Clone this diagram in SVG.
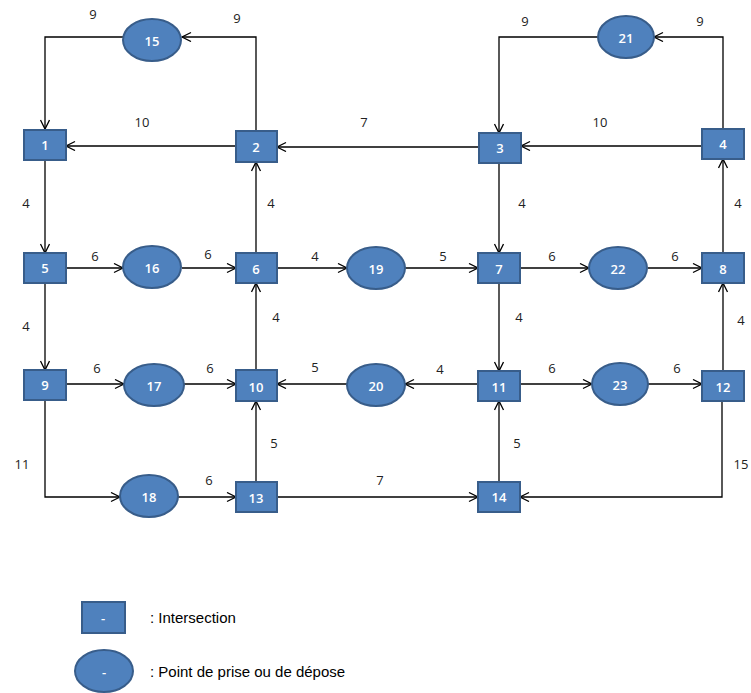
<svg xmlns="http://www.w3.org/2000/svg" width="751" height="693" viewBox="0 0 751 693">
<style>
.n{fill:#4F81BD;stroke:#385D8A;stroke-width:2}
.t{fill:#fff;font-family:"Open Sans","Liberation Sans",sans-serif;font-size:13px;font-weight:600;text-anchor:middle;dominant-baseline:central}
.c path{fill:none;stroke:#000;stroke-width:1.3;marker-end:url(#a)}
.l{fill:#222;font-family:"Open Sans","Liberation Sans",sans-serif;font-size:13px;text-anchor:middle;dominant-baseline:central}
.g{fill:#000;font-family:"Liberation Sans",Arial,sans-serif;font-size:15px;dominant-baseline:central}
</style>
<defs>
<marker id="a" markerWidth="12" markerHeight="12" refX="10" refY="5" orient="auto" markerUnits="userSpaceOnUse">
<path d="M1,0.5 L10,5 L1,9.5" fill="none" stroke="#000" stroke-width="1.3"/>
</marker>
</defs>
<rect width="751" height="693" fill="#fff"/>
<g class="c">
<path d="M123,37 H45 V129"/>
<path d="M256,131 V37 H182"/>
<path d="M236,146 H66"/>
<path d="M479,147 H277"/>
<path d="M598,37 H499 V133"/>
<path d="M723,129 V37 H654"/>
<path d="M702,146 H521"/>
<path d="M45,160 V253"/>
<path d="M256,253 V162"/>
<path d="M499,163 V253"/>
<path d="M723,253 V159"/>
<path d="M66,268 H123"/>
<path d="M182,268 H236"/>
<path d="M277,268 H347"/>
<path d="M405,268 H478"/>
<path d="M520,268 H589"/>
<path d="M648,268 H702"/>
<path d="M45,283 V370"/>
<path d="M256,370 V283"/>
<path d="M499,283 V371"/>
<path d="M723,371 V283"/>
<path d="M66,384 H124"/>
<path d="M184,384 H236"/>
<path d="M347,384 H277"/>
<path d="M478,384 H405"/>
<path d="M520,384 H592"/>
<path d="M648,384 H702"/>
<path d="M45,400 V497 H120"/>
<path d="M178,497 H236"/>
<path d="M256,482 V401"/>
<path d="M277,497 H478"/>
<path d="M499,482 V401"/>
<path d="M722,401 V497 H520"/>
</g>
<g id="n1"><rect class="n" x="24" y="130" width="42" height="30"/><text class="t" x="45" y="145">1</text></g>
<g id="n2"><rect class="n" x="236" y="131" width="41" height="31"/><text class="t" x="256" y="147">2</text></g>
<g id="n3"><rect class="n" x="479" y="133" width="42" height="30"/><text class="t" x="500" y="148">3</text></g>
<g id="n4"><rect class="n" x="702" y="129" width="42" height="30"/><text class="t" x="723" y="144">4</text></g>
<g id="n5"><rect class="n" x="24" y="253" width="42" height="30"/><text class="t" x="45" y="268">5</text></g>
<g id="n6"><rect class="n" x="236" y="253" width="41" height="30"/><text class="t" x="256" y="269">6</text></g>
<g id="n7"><rect class="n" x="478" y="253" width="42" height="30"/><text class="t" x="499" y="269">7</text></g>
<g id="n8"><rect class="n" x="702" y="253" width="42" height="30"/><text class="t" x="723" y="269">8</text></g>
<g id="n9"><rect class="n" x="24" y="370" width="42" height="30"/><text class="t" x="45" y="385">9</text></g>
<g id="n10"><rect class="n" x="236" y="370" width="41" height="31"/><text class="t" x="256" y="387">10</text></g>
<g id="n11"><rect class="n" x="478" y="371" width="42" height="30"/><text class="t" x="499" y="387">11</text></g>
<g id="n12"><rect class="n" x="702" y="371" width="42" height="30"/><text class="t" x="723" y="387">12</text></g>
<g id="n13"><rect class="n" x="236" y="482" width="41" height="30"/><text class="t" x="256" y="498">13</text></g>
<g id="n14"><rect class="n" x="478" y="482" width="42" height="30"/><text class="t" x="499" y="497">14</text></g>
<g id="n15"><ellipse class="n" cx="152" cy="40" rx="29" ry="21"/><text class="t" x="152" y="41">15</text></g>
<g id="n16"><ellipse class="n" cx="152" cy="267" rx="29" ry="21"/><text class="t" x="152" y="268">16</text></g>
<g id="n17"><ellipse class="n" cx="154" cy="385" rx="30" ry="21"/><text class="t" x="154" y="386">17</text></g>
<g id="n18"><ellipse class="n" cx="149" cy="496" rx="29" ry="21"/><text class="t" x="149" y="497">18</text></g>
<g id="n19"><ellipse class="n" cx="376" cy="268" rx="29" ry="21"/><text class="t" x="376" y="269">19</text></g>
<g id="n20"><ellipse class="n" cx="376" cy="385" rx="29" ry="21"/><text class="t" x="376" y="386">20</text></g>
<g id="n21"><ellipse class="n" cx="626" cy="37" rx="28" ry="21"/><text class="t" x="626" y="38">21</text></g>
<g id="n22"><ellipse class="n" cx="618" cy="268" rx="29" ry="21"/><text class="t" x="618" y="269">22</text></g>
<g id="n23"><ellipse class="n" cx="620" cy="384" rx="28" ry="21"/><text class="t" x="620" y="385">23</text></g>
<g id="labels">
<text class="l" x="93" y="14">9</text>
<text class="l" x="237" y="18">9</text>
<text class="l" x="142" y="122">10</text>
<text class="l" x="364" y="122">7</text>
<text class="l" x="525" y="21">9</text>
<text class="l" x="700" y="21">9</text>
<text class="l" x="600" y="122">10</text>
<text class="l" x="26" y="203">4</text>
<text class="l" x="271" y="203">4</text>
<text class="l" x="522" y="203">4</text>
<text class="l" x="738" y="203">4</text>
<text class="l" x="95" y="256">6</text>
<text class="l" x="208" y="254">6</text>
<text class="l" x="315" y="256">4</text>
<text class="l" x="443" y="256">5</text>
<text class="l" x="552" y="256">6</text>
<text class="l" x="675" y="256">6</text>
<text class="l" x="26" y="326">4</text>
<text class="l" x="276" y="317">4</text>
<text class="l" x="519" y="317">4</text>
<text class="l" x="741" y="320">4</text>
<text class="l" x="97" y="368">6</text>
<text class="l" x="210" y="368">6</text>
<text class="l" x="315" y="367">5</text>
<text class="l" x="440" y="369">4</text>
<text class="l" x="552" y="368">6</text>
<text class="l" x="677" y="368">6</text>
<text class="l" x="22" y="464">11</text>
<text class="l" x="209" y="480">6</text>
<text class="l" x="274" y="443">5</text>
<text class="l" x="380" y="480">7</text>
<text class="l" x="517" y="443">5</text>
<text class="l" x="741" y="464">15</text>
</g>
<g id="legend-rect"><rect class="n" x="82" y="602" width="43" height="31"/><text class="t" x="103" y="618">-</text></g>
<g id="legend-ellipse"><ellipse class="n" cx="104" cy="671" rx="29" ry="21"/><text class="t" x="104" y="672">-</text></g>
<text class="g" x="150" y="617">: Intersection</text>
<text class="g" x="150" y="671">: Point de prise ou de dépose</text>
</svg>
